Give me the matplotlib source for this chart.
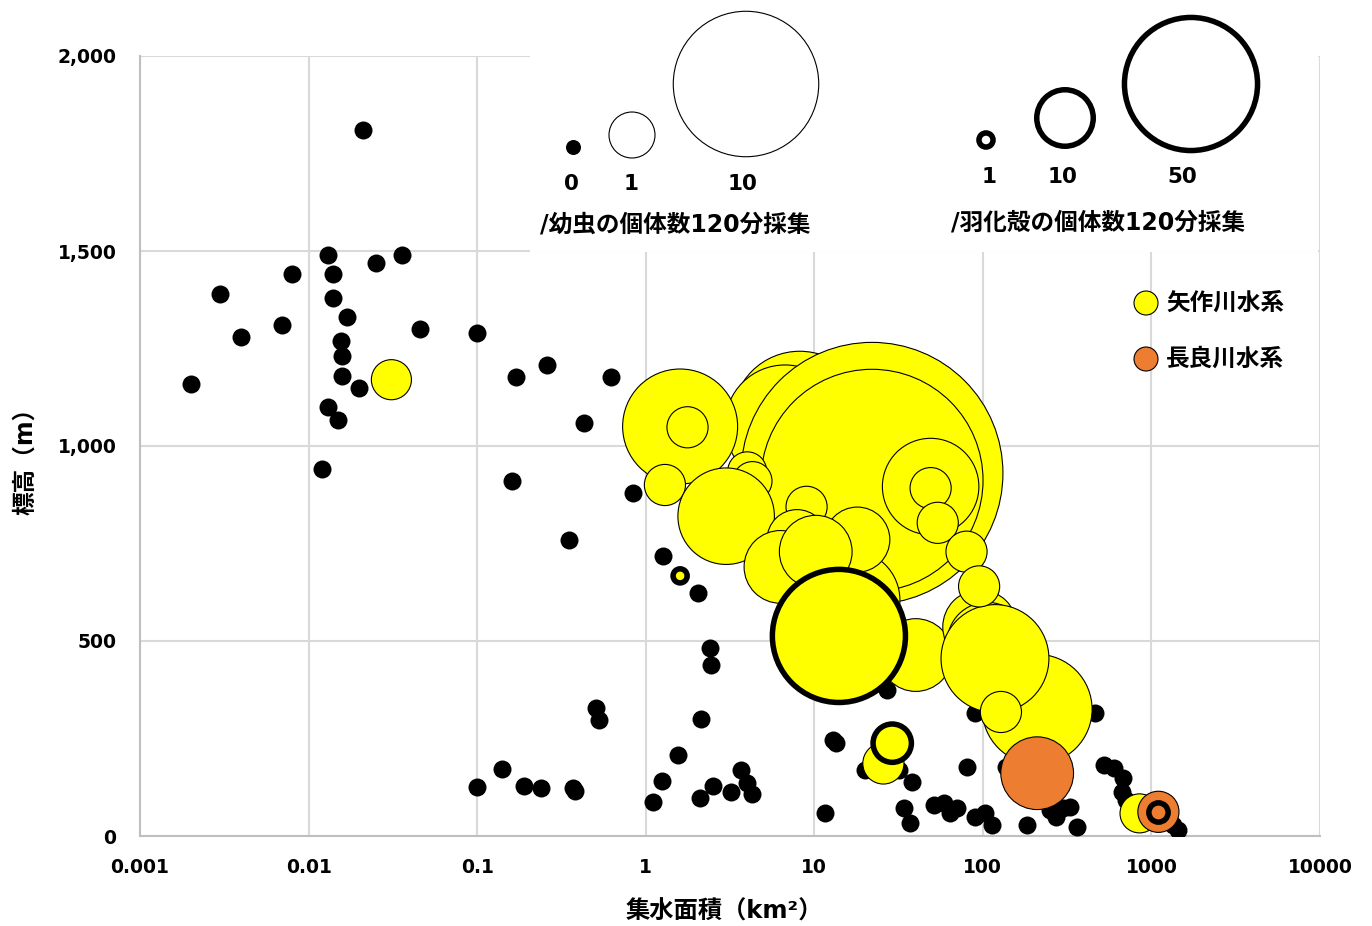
import numpy as np
import matplotlib
matplotlib.use("Agg")
import matplotlib.pyplot as plt
from matplotlib.patches import Rectangle
from matplotlib.ticker import FixedLocator, FixedFormatter, NullLocator

W, H, DPI = 1372, 926, 100
PT = 72 / DPI  # points per pixel

# sites where no larvae were collected (catchment km2, elevation m)
zero_area = [0.021, 0.013, 0.036, 0.025, 0.008, 0.014, 0.003, 0.014, 0.017, 0.007,
             0.004, 0.046, 0.10, 0.0156, 0.0158, 0.0158, 0.020, 0.002, 0.013, 0.015,
             0.17, 0.26, 0.62, 0.43, 0.012, 0.16, 0.84, 0.35, 1.26, 2.03,
             2.4, 2.44, 0.51, 0.53, 2.14, 1.55, 0.14, 0.10, 0.19, 0.24,
             0.37, 0.38, 1.25, 1.1, 3.7, 2.5, 2.1, 3.2, 4.0, 4.25,
             11.5, 13, 13.5, 27, 20, 32, 38, 80, 34, 37,
             51, 59, 64, 70, 90, 103, 113, 184, 138, 300,
             329, 250, 272, 360, 460, 520, 600, 680, 670, 710,
             1440, 1340, 90]
zero_elev = [1810, 1490, 1490, 1470, 1440, 1440, 1390, 1380, 1330, 1310,
             1280, 1300, 1290, 1270, 1230, 1180, 1150, 1160, 1100, 1067,
             1178, 1208, 1178, 1058, 940, 910, 880, 760, 718, 624,
             481, 438, 329, 297, 299, 208, 172, 126, 129, 122,
             122, 115, 141, 88, 169, 129, 98, 114, 135, 107,
             58, 246, 238, 374, 170, 170, 138, 178, 71, 33,
             79, 85, 58, 71, 50, 58, 28, 28, 178, 71,
             74, 67, 50, 24, 315, 182, 175, 148, 114, 92,
             15, 28, 315]

# Yahagi river system: larvae per 120 min (listed in drawing order)
yahagi_area = [8.2, 6.7, 22, 22, 1.6, 1.77, 4.0, 4.3, 1.3, 3.0,
               49, 49, 9.0, 7.9, 16.3, 18, 6.3, 10.2, 40, 96,
               106, 210, 118, 128, 54, 80, 95, 0.031, 25.7, 850]
yahagi_elev = [1070, 1054, 930, 912, 1050, 1048, 935, 910, 900, 820,
               896, 892, 844, 760, 605, 760, 690, 729, 464, 536,
               497, 325, 455, 318, 803, 729, 640, 1170, 186, 58]
yahagi_larvae = [8.6, 6.8, 32.4, 23.3, 6.25, 0.8, 0.72, 0.72, 0.8, 4.4,
                 4.4, 0.8, 0.8, 1.7, 4.7, 2.0, 2.5, 2.5, 2.5, 2.6,
                 3.0, 5.7, 5.5, 0.8, 0.8, 0.8, 0.8, 0.76, 0.8, 0.72]

# Nagara river system
nagara_area = [210, 1100]
nagara_elev = [161, 62]
nagara_larvae = [2.5, 0.8]

# emerged shells per 120 min
yahagi_shell_area = [1.6, 29, 14]
yahagi_shell_elev = [667, 238, 513]
yahagi_shells = [1, 5, 50]

nagara_shell_area = [1100]
nagara_shell_elev = [62]
nagara_shells = [1.6]

x_ticks = [0.001, 0.01, 0.1, 1, 10, 100, 1000, 10000]
x_tick_labels = ["0.001", "0.01", "0.1", "1", "10", "100", "1000", "10000"]
y_ticks = [0, 500, 1000, 1500, 2000]
y_tick_labels = ["0", "500", "1,000", "1,500", "2,000"]

larva_legend = [0, 1, 10]
shell_legend = [1, 10, 50]

YELLOW = "#FFFF00"
ORANGE = "#ED7D31"
GRID = "#D9D9D9"
FONTS = ["DejaVu Sans", "Noto Sans CJK JP"]
SHELL_LW = 5.5  # ring width in pixels


def larva_size(n):
    d = 46 * np.sqrt(np.asarray(n, dtype=float))
    return (d * PT) ** 2


def shell_size(n):
    d = 19.6 * np.sqrt(np.asarray(n, dtype=float)) - SHELL_LW
    return (d * PT) ** 2


DOT = (18 * PT) ** 2

fig = plt.figure(figsize=(W / DPI, H / DPI), dpi=DPI)
ax = fig.add_axes([140 / W, 1 - 836 / H, 1180 / W, 780 / H])
ax.set_xscale("log")
ax.set_xlim(0.001, 10000)
ax.set_ylim(0, 2000)
ax.xaxis.set_major_locator(FixedLocator(x_ticks))
ax.xaxis.set_major_formatter(FixedFormatter(x_tick_labels))
ax.xaxis.set_minor_locator(NullLocator())
ax.yaxis.set_major_locator(FixedLocator(y_ticks))
ax.yaxis.set_major_formatter(FixedFormatter(y_tick_labels))
ax.grid(True, color=GRID, lw=1.5)
ax.set_axisbelow(True)
ax.tick_params(length=0, labelsize=13.5, pad=0)
ax.tick_params(axis="x", pad=16)
ax.tick_params(axis="y", pad=17)
for lab in ax.get_xticklabels() + ax.get_yticklabels():
    lab.set_fontweight("bold")
for side in ["top", "right"]:
    ax.spines[side].set_visible(False)
for side in ["left", "bottom"]:
    ax.spines[side].set_color("#BFBFBF")
    ax.spines[side].set_linewidth(1.5)

ax.scatter(zero_area, zero_elev, s=DOT, c="black", lw=0, zorder=3)
ax.scatter(yahagi_area, yahagi_elev, s=larva_size(yahagi_larvae),
           facecolor=YELLOW, edgecolor="black", lw=0.8, zorder=4)
ax.scatter(yahagi_shell_area, yahagi_shell_elev, s=shell_size(yahagi_shells),
           facecolor=YELLOW, edgecolor="black", lw=SHELL_LW * PT, zorder=5)
ax.scatter(nagara_area, nagara_elev, s=larva_size(nagara_larvae),
           facecolor=ORANGE, edgecolor="black", lw=0.8, zorder=6)
ax.scatter(nagara_shell_area, nagara_shell_elev, s=shell_size(nagara_shells),
           facecolor=ORANGE, edgecolor="black", lw=SHELL_LW * PT, zorder=7)

ax.set_xlabel("集水面積（km²）", family=FONTS, fontsize=17.5, fontweight="bold", va="center")
ax.xaxis.set_label_coords(0.495, -0.0974)
ax.set_ylabel("標高（m）", family=FONTS, fontsize=17, fontweight="bold", va="center")
ax.yaxis.set_label_coords(-0.0975, 0.488)

# size keys, laid out in figure pixels
ov = fig.add_axes([0, 0, 1, 1])
ov.set_xlim(0, W)
ov.set_ylim(H, 0)
ov.axis("off")
ov.add_patch(Rectangle((530, 0), 788, 252, facecolor="white", edgecolor="none"))

larva_x = [573, 632, 746]
larva_y = [147, 135, 84]
ov.scatter(larva_x[:1], larva_y[:1], s=(15 * PT) ** 2, c="black", lw=0)
ov.scatter(larva_x[1:], larva_y[1:], s=larva_size(larva_legend[1:]),
           facecolor="white", edgecolor="black", lw=0.8)
for x, n in zip([571, 631, 743], larva_legend):
    ov.text(x, 184, str(n), ha="center", va="center", fontsize=15.5, fontweight="bold")
ov.text(675, 225, "/幼虫の個体数120分採集", ha="center", va="center",
        family=FONTS, fontsize=17, fontweight="bold")

ov.scatter([986, 1065, 1191], [140, 118, 84], s=shell_size(shell_legend),
           facecolor="white", edgecolor="black", lw=SHELL_LW * PT)
for x, n in zip([989, 1063, 1182], shell_legend):
    ov.text(x, 177, str(n), ha="center", va="center", fontsize=15.5, fontweight="bold")
ov.text(1098, 222, "/羽化殻の個体数120分採集", ha="center", va="center",
        family=FONTS, fontsize=17, fontweight="bold")

# river system key
ov.scatter([1146, 1146], [303, 359], s=(24 * PT) ** 2,
           facecolor=[YELLOW, ORANGE], edgecolor="black", lw=0.8)
ov.text(1166, 303, "矢作川水系", ha="left", va="center", family=FONTS,
        fontsize=17, fontweight="bold")
ov.text(1166, 359, "長良川水系", ha="left", va="center", family=FONTS,
        fontsize=17, fontweight="bold")

fig.savefig("out.png", dpi=DPI)
